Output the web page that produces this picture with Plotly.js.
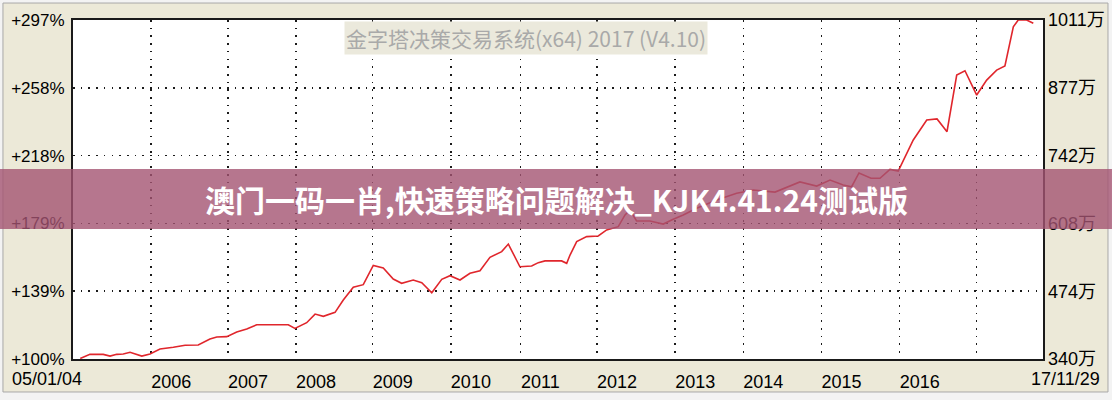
<!DOCTYPE html>
<html>
<head>
<meta charset="utf-8">
<script src="https://cdn.plot.ly/plotly-3.0.1.min.js"></script>
<style>html,body{margin:0;padding:0;background:#f3f3f3;}#chart{width:1112px;height:400px;}</style>
</head>
<body>
<div id="chart"></div>
<script>
// Sample position on the trading-week axis (0 = 05/01/04, 670 = 17/11/29)
const weekIdx = [5, 11.7, 20.9, 25.6, 30.2, 34.7, 39.4, 42.8, 47.5, 53.2, 60.1, 69.3, 77.4, 86.5, 94.6, 99.3, 106.2, 113.1, 120.0, 126.9, 148.7, 153.3, 161.4, 167.2, 172.9, 181.0, 186.7, 193.6, 200.5, 207.4, 214.3, 221.2, 227.0, 235.0, 240.9, 247.8, 254.7, 260.4, 267.3, 274.2, 281.1, 288.0, 296.1, 300.7, 308.7, 316.8, 321.4, 326.0, 337.5, 341.0, 343.3, 347.9, 354.8, 362.8, 368.6, 376.6, 381.3, 384.7, 389.3, 398.5, 407.7, 414.6, 421.5, 430.8, 444.6, 458.4, 469.9, 484.9, 502.1, 513.7, 522.9, 532.0, 537.8, 542.9, 551.2, 557.4, 564.3, 570.0, 573.5, 580.4, 589.7, 596.8, 603.7, 610.4, 616.1, 624.2, 631.1, 638.0, 643.7, 649.5, 652.9, 658.7, 663.3];
// Cumulative equity, percent of initial capital
const returnPct = [100.3, 102.7, 102.7, 101.7, 102.7, 102.9, 103.9, 102.9, 101.7, 102.9, 105.8, 106.8, 108.0, 108.1, 111.6, 112.8, 113.0, 115.7, 117.4, 119.9, 119.9, 117.8, 121.1, 126.1, 124.8, 127.1, 134.3, 141.7, 143.2, 154.4, 152.9, 146.5, 144.0, 145.9, 144.3, 138.5, 146.3, 148.4, 145.9, 149.8, 151.3, 159.1, 162.4, 166.8, 153.6, 154.0, 156.0, 157.0, 157.0, 155.6, 160.4, 168.2, 171.1, 171.5, 175.0, 176.9, 183.7, 186.6, 180.2, 180.2, 178.4, 181.2, 183.7, 187.6, 192.4, 196.3, 198.2, 197.0, 202.9, 200.5, 204.0, 201.1, 200.1, 208.1, 205.0, 205.0, 210.2, 209.2, 215.6, 227.3, 238.9, 239.5, 232.1, 265.0, 267.5, 253.4, 262.1, 267.9, 270.3, 293.1, 297.0, 297.0, 295.1];

const yearTickWeeks = [54, 107, 154, 207, 261, 309, 362, 416, 463, 517, 571, 624];
const yearLabels = ["2006", "2007", "2008", "2009", "2010", "2011", "2012", "2013", "2014", "2015", "2016", ""];
const startLabel = "05/01/04";
const endLabel = "17/11/29";

const leftTickVals = [100, 139.4, 178.8, 218.2, 257.6, 297];
const leftTickText = ["+100%", "+139%", "+179%", "+218%", "+258%", "+297%"];
const rightTickVals = [340, 474, 608, 742, 877, 1011];
const rightTickText = ["340万", "474万", "608万", "742万", "877万", "1011万"];

const watermark = "金字塔决策交易系统(x64) 2017 (V4.10)";
const bannerText = "澳门一码一肖,快速策略问题解决_KJK4.41.24测试版";

const tickFont = {family: "Liberation Sans, Arial, Noto Sans CJK SC, sans-serif", size: 18, color: "#000"};
const dotGrid = {showgrid: true, gridcolor: "#1a1a1a", gridwidth: 1.6, griddash: "1.6px,6.1px"};

const traces = [
  {x: weekIdx, y: returnPct, type: "scatter", mode: "lines",
   line: {color: "#e0262c", width: 1.6}, hoverinfo: "skip", showlegend: false},
  {x: [], y: [], type: "scatter", mode: "lines", yaxis: "y2", hoverinfo: "skip", showlegend: false}
];

const layout = {
  width: 1112, height: 400,
  margin: {l: 73, r: 69, t: 20, b: 41, pad: 0},
  paper_bgcolor: "#f3f3f3",
  plot_bgcolor: "rgba(0,0,0,0)",
  showlegend: false,
  xaxis: Object.assign({
    range: [0, 670], tickmode: "array", tickvals: yearTickWeeks, ticktext: yearLabels,
    ticks: "", ticklabelshift: 20, ticklabelstandoff: 5,
    showline: true, mirror: true, linecolor: "#1a1a1a", linewidth: 2,
    zeroline: false, tickfont: tickFont, fixedrange: true
  }, dotGrid),
  yaxis: Object.assign({
    range: [100, 297], tickmode: "array", tickvals: leftTickVals, ticktext: leftTickText,
    ticks: "", ticklabelstandoff: 3,
    showline: true, mirror: true, linecolor: "#1a1a1a", linewidth: 2,
    zeroline: false, tickfont: Object.assign({}, tickFont, {size: 17}), fixedrange: true
  }, dotGrid),
  yaxis2: {
    overlaying: "y", side: "right", range: [340, 1011], tickmode: "array",
    tickvals: rightTickVals, ticktext: rightTickText, ticks: "", ticklabelstandoff: 4,
    showgrid: false, zeroline: false, showline: false, tickfont: tickFont, fixedrange: true
  },
  shapes: [
    {type: "rect", xref: "paper", yref: "paper", x0: -0.0722, x1: 1.0670, y0: -0.0973, y1: 1.0501,
     fillcolor: "#ece9d8", line: {color: "#a8a8a8", width: 1}, layer: "below"},
    {type: "rect", xref: "paper", yref: "paper", x0: 0, x1: 1, y0: 0, y1: 1,
     fillcolor: "#ffffff", line: {width: 0}, layer: "below"},
    {type: "rect", xref: "paper", yref: "paper", x0: -0.0753, x1: 1.0711, y0: 0.3835, y1: 0.5605,
     fillcolor: "rgba(164,84,114,0.8)", line: {width: 0}, layer: "above"}
  ],
  annotations: [
    {text: watermark, xref: "paper", yref: "paper", x: 0.467, y: 0.948, xanchor: "center", yanchor: "middle",
     showarrow: false, bgcolor: "#ebe9dc", borderpad: 1,
     font: {family: "Noto Sans CJK SC, sans-serif", size: 21, color: "#a9a9a9"}},
    {text: startLabel, xref: "paper", yref: "paper", x: -0.0268, y: -0.059, xanchor: "center", yanchor: "middle",
     showarrow: false, font: tickFont},
    {text: endLabel, xref: "paper", yref: "paper", x: 1.0237, y: -0.059, xanchor: "center", yanchor: "middle",
     showarrow: false, font: tickFont},
    {text: "<b>" + bannerText + "</b>", xref: "paper", yref: "paper", x: 0.498, y: 0.472,
     xanchor: "center", yanchor: "middle", showarrow: false,
     font: {family: "Noto Sans CJK SC, sans-serif", size: 30, color: "#ffffff"}}
  ]
};

Plotly.newPlot("chart", traces, layout, {staticPlot: true, displayModeBar: false});
</script>
</body>
</html>
